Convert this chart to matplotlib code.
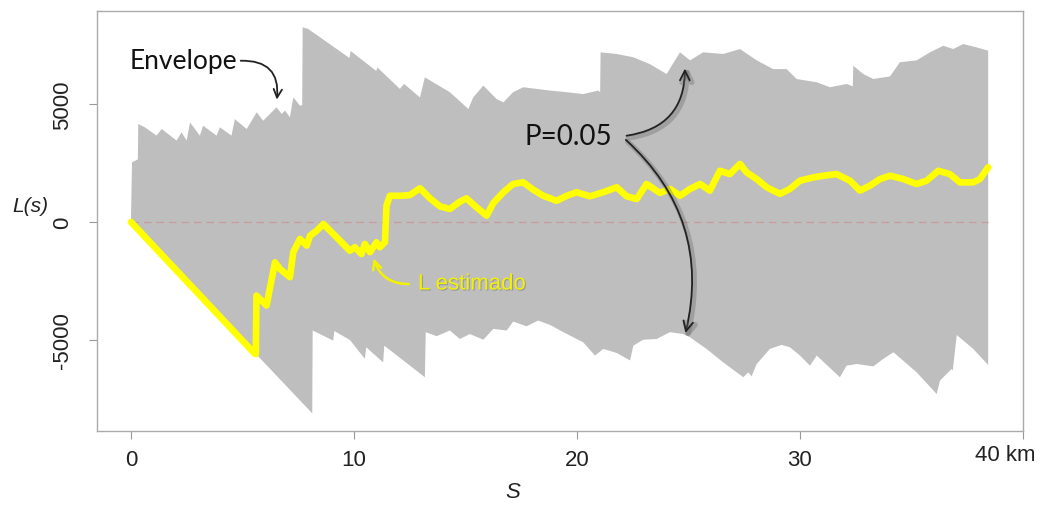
import matplotlib
matplotlib.use('Agg')
import matplotlib.pyplot as plt
import matplotlib.patheffects as pe
from matplotlib.patches import FancyArrowPatch
import numpy as np

plt.rcParams['font.family'] = ['Liberation Sans', 'DejaVu Sans']

# envelope, upper edge (s in km, value)
up_s = [0.00, 0.05, 0.31, 0.33, 0.63, 1.15, 1.38, 2.05, 2.27, 2.50, 2.65, 3.09, 3.24,
        3.84, 3.99, 4.51, 4.66, 5.19, 5.64, 5.93, 6.53, 6.76, 6.91, 7.13, 7.28, 7.58,
        7.68, 7.70, 7.95, 9.80, 9.85, 11.00, 11.05, 12.06, 12.25, 12.96, 13.18, 14.30,
        15.13, 15.35, 15.80, 16.40, 16.70, 17.14, 17.59, 18.19, 18.79, 19.54, 20.28,
        20.96, 21.04, 21.06, 21.78, 22.53, 23.27, 24.02, 24.62, 25.07, 25.66, 26.56,
        27.31, 28.06, 28.80, 29.40, 29.85, 30.75, 31.35, 32.09, 32.37, 32.39, 32.84,
        33.29, 34.04, 34.48, 35.23, 35.83, 36.43, 36.87, 37.32, 37.92, 38.44]
up_v = [0, 2530, 2650, 4150, 4010, 3660, 3940, 3450, 3800, 3450, 4220, 3660, 4080,
        3660, 4010, 3660, 4360, 3940, 4650, 4290, 4860, 4580, 4720, 4440, 5280, 4930,
        4950, 8250, 8180, 6950, 7250, 6400, 6550, 5640, 5850, 5280, 6130, 5500,
        4790, 5280, 5780, 5210, 5070, 5500, 5710, 5640, 5570, 5500, 5420,
        5570, 5500, 7190, 7120, 6980, 6690, 6270, 7190, 6850, 7190, 7120,
        7330, 6850, 6480, 6480, 6060, 5920, 5710, 5850, 5750, 6620, 6270,
        6060, 6170, 6770, 6850, 7190, 7470, 7330, 7540, 7400, 7260]

# envelope, lower edge
lo_s = [0.00, 8.13, 8.15, 8.48, 9.07, 9.12, 9.82, 10.49, 10.55, 11.31, 11.36, 13.18,
        13.22, 13.71, 14.30, 14.75, 15.20, 15.80, 16.25, 16.85, 17.14, 17.74, 18.26,
        18.79, 19.39, 20.28, 20.81, 21.18, 21.78, 22.38, 22.53, 22.97, 23.57, 24.17,
        24.77, 25.07, 25.81, 26.56, 27.46, 27.68, 27.83, 28.06, 28.65, 29.18, 29.55,
        30.00, 30.45, 30.75, 31.79, 32.09, 32.54, 33.29, 33.74, 34.19, 35.23, 36.13,
        36.28, 36.80, 36.85, 37.03, 37.77, 38.44]
lo_v = [0, -8110, -4600, -4750, -5030, -4620, -5000, -5800, -5310, -5950, -5240, -6580,
        -4670, -4840, -4600, -4960, -4750, -4990, -4530, -4600, -4220, -4420, -4180,
        -4360, -4670, -5100, -5660, -5380, -5550, -5870, -5240, -4990, -4960, -4670,
        -4750, -4890, -5380, -5950, -6580, -6370, -6540, -6020, -5380, -5210, -5310,
        -5660, -6090, -5660, -6580, -6090, -6020, -6120, -5800, -5520, -6370, -7290,
        -6720, -6230, -6300, -4790, -5380, -6060]

# estimated L(s)
l_s = [0.00, 5.56, 5.60, 5.63, 6.08, 6.46, 6.68, 7.13, 7.28, 7.58, 7.88, 8.03, 8.33,
       8.63, 9.82, 10.04, 10.34, 10.49, 10.72, 11.01, 11.16, 11.39, 11.46, 11.61, 12.06,
       12.51, 12.96, 13.41, 13.86, 14.30, 14.75, 15.05, 15.50, 15.95, 16.25, 16.70,
       17.14, 17.59, 18.04, 18.49, 19.09, 19.54, 19.99, 20.58, 21.18, 21.78, 22.23,
       22.68, 23.12, 23.72, 24.17, 24.62, 25.07, 25.52, 25.96, 26.41, 26.86, 27.31,
       27.61, 28.06, 28.51, 29.10, 29.55, 30.00, 30.60, 31.05, 31.64, 32.24, 32.69,
       33.14, 33.59, 34.04, 34.63, 35.23, 35.68, 36.20, 36.72, 37.17, 37.77, 38.07, 38.44]
l_v = [0, -5590, -5600, -3120, -3540, -1710, -1990, -2340, -1280, -720, -1000, -580, -370,
       -85, -1220, -1070, -1360, -930, -1280, -860, -1070, -860, 690, 1110, 1110,
       1140, 1430, 1000, 660, 550, 860, 1000, 620, 270, 800, 1260,
       1610, 1680, 1370, 1110, 900, 1110, 1260, 1090, 1260, 1470, 1090,
       975, 1610, 1230, 1400, 1110, 1400, 1610, 1330, 2170, 2030, 2460,
       2100, 1820, 1470, 1190, 1400, 1750, 1890, 1960, 2030, 1750, 1330,
       1540, 1820, 1960, 1820, 1610, 1750, 2170, 2030, 1680, 1680, 1820, 2320]

x_ticks = [0, 10, 20, 30, 40]
x_tick_labels = ['0', '10', '20', '30', '40 km']
y_ticks = [-5000, 0, 5000]
y_tick_labels = ['-5000', '0', '5000']

fig = plt.figure(figsize=(10.41, 5.06), dpi=100)
ax = fig.add_axes([0.0932, 0.1462, 0.8895, 0.8300])

ax.fill(np.r_[up_s, lo_s[::-1]], np.r_[up_v, lo_v[::-1]], color='#bebebe', lw=0, zorder=1)
ax.hlines(0, l_s[0], l_s[-1], colors='#c99a9a', lw=0.9, linestyles=(0, (6, 4)), zorder=2)
ax.plot(l_s, l_v, color='#ffff00', lw=4.8, solid_joinstyle='round',
        solid_capstyle='round', zorder=3)

ax.set_xlim(-1.52, 40.0)
ax.set_ylim(-8860, 8940)
ax.set_xticks(x_ticks)
ax.set_xticklabels(x_tick_labels[:-1] + [''])
ax.set_yticks(y_ticks)
ax.set_yticklabels(y_tick_labels, rotation=90, va='center')
ax.tick_params(length=6, width=0.8, color='#999999', labelcolor='#222222', labelsize=16)
ax.tick_params(axis='x', pad=7)
ax.tick_params(axis='y', pad=11)
for sp in ax.spines.values():
    sp.set_color('#aaaaaa')
    sp.set_linewidth(1)

ax.text(39.2, -0.055, x_tick_labels[-1], transform=ax.get_xaxis_transform(),
        ha='center', va='center', fontsize=16, color='#222222')
ax.text(-0.072, 0.536, 'L(s)', transform=ax.transAxes, ha='center', va='center',
        fontsize=15, style='italic', color='#222222')
ax.text(0.449, -0.145, 'S', transform=ax.transAxes, ha='center', va='center',
        fontsize=16, style='italic', color='#222222')

# annotations
ax.text(-0.05, 6850, 'Envelope', ha='left', va='center', fontsize=19,
        family=['Lato', 'DejaVu Sans'], color='#111111')
ax.add_patch(FancyArrowPatch((4.80, 6830), (6.53, 5070), connectionstyle='arc3,rad=-0.6',
                             arrowstyle='->,head_length=6,head_width=3', lw=1.3,
                             color='#222222', zorder=5))

ax.text(17.67, 3640, 'P=0.05', ha='left', va='center', fontsize=20,
        family=['Lato', 'DejaVu Sans'], color='#111111')
shadow = [pe.SimpleLineShadow(offset=(1.5, -1.5), shadow_color='#666666', alpha=0.35,
                              linewidth=4), pe.Normal()]
ax.add_patch(FancyArrowPatch((22.1, 3640), (24.84, 6620), connectionstyle='arc3,rad=0.45',
                             arrowstyle='->,head_length=7,head_width=3.5', lw=1.3,
                             color='#222222', zorder=5, path_effects=shadow))
ax.add_patch(FancyArrowPatch((22.1, 3560), (24.84, -4820), connectionstyle='arc3,rad=-0.3',
                             arrowstyle='->,head_length=7,head_width=3.5', lw=1.3,
                             color='#222222', zorder=5, path_effects=shadow))

ax.text(12.87, -2630, 'L estimado', ha='left', va='center', fontsize=16, color='#f2f200',
        path_effects=[pe.withSimplePatchShadow(offset=(0.8, -0.8), shadow_rgbFace='#707070',
                                               alpha=0.45)], zorder=5)
ax.add_patch(FancyArrowPatch((12.59, -2630), (10.85, -1430), connectionstyle='arc3,rad=-0.4',
                             arrowstyle='->,head_length=6,head_width=3', lw=1.8,
                             color='#f2f200', zorder=5))

fig.savefig('out.png', dpi=100)
